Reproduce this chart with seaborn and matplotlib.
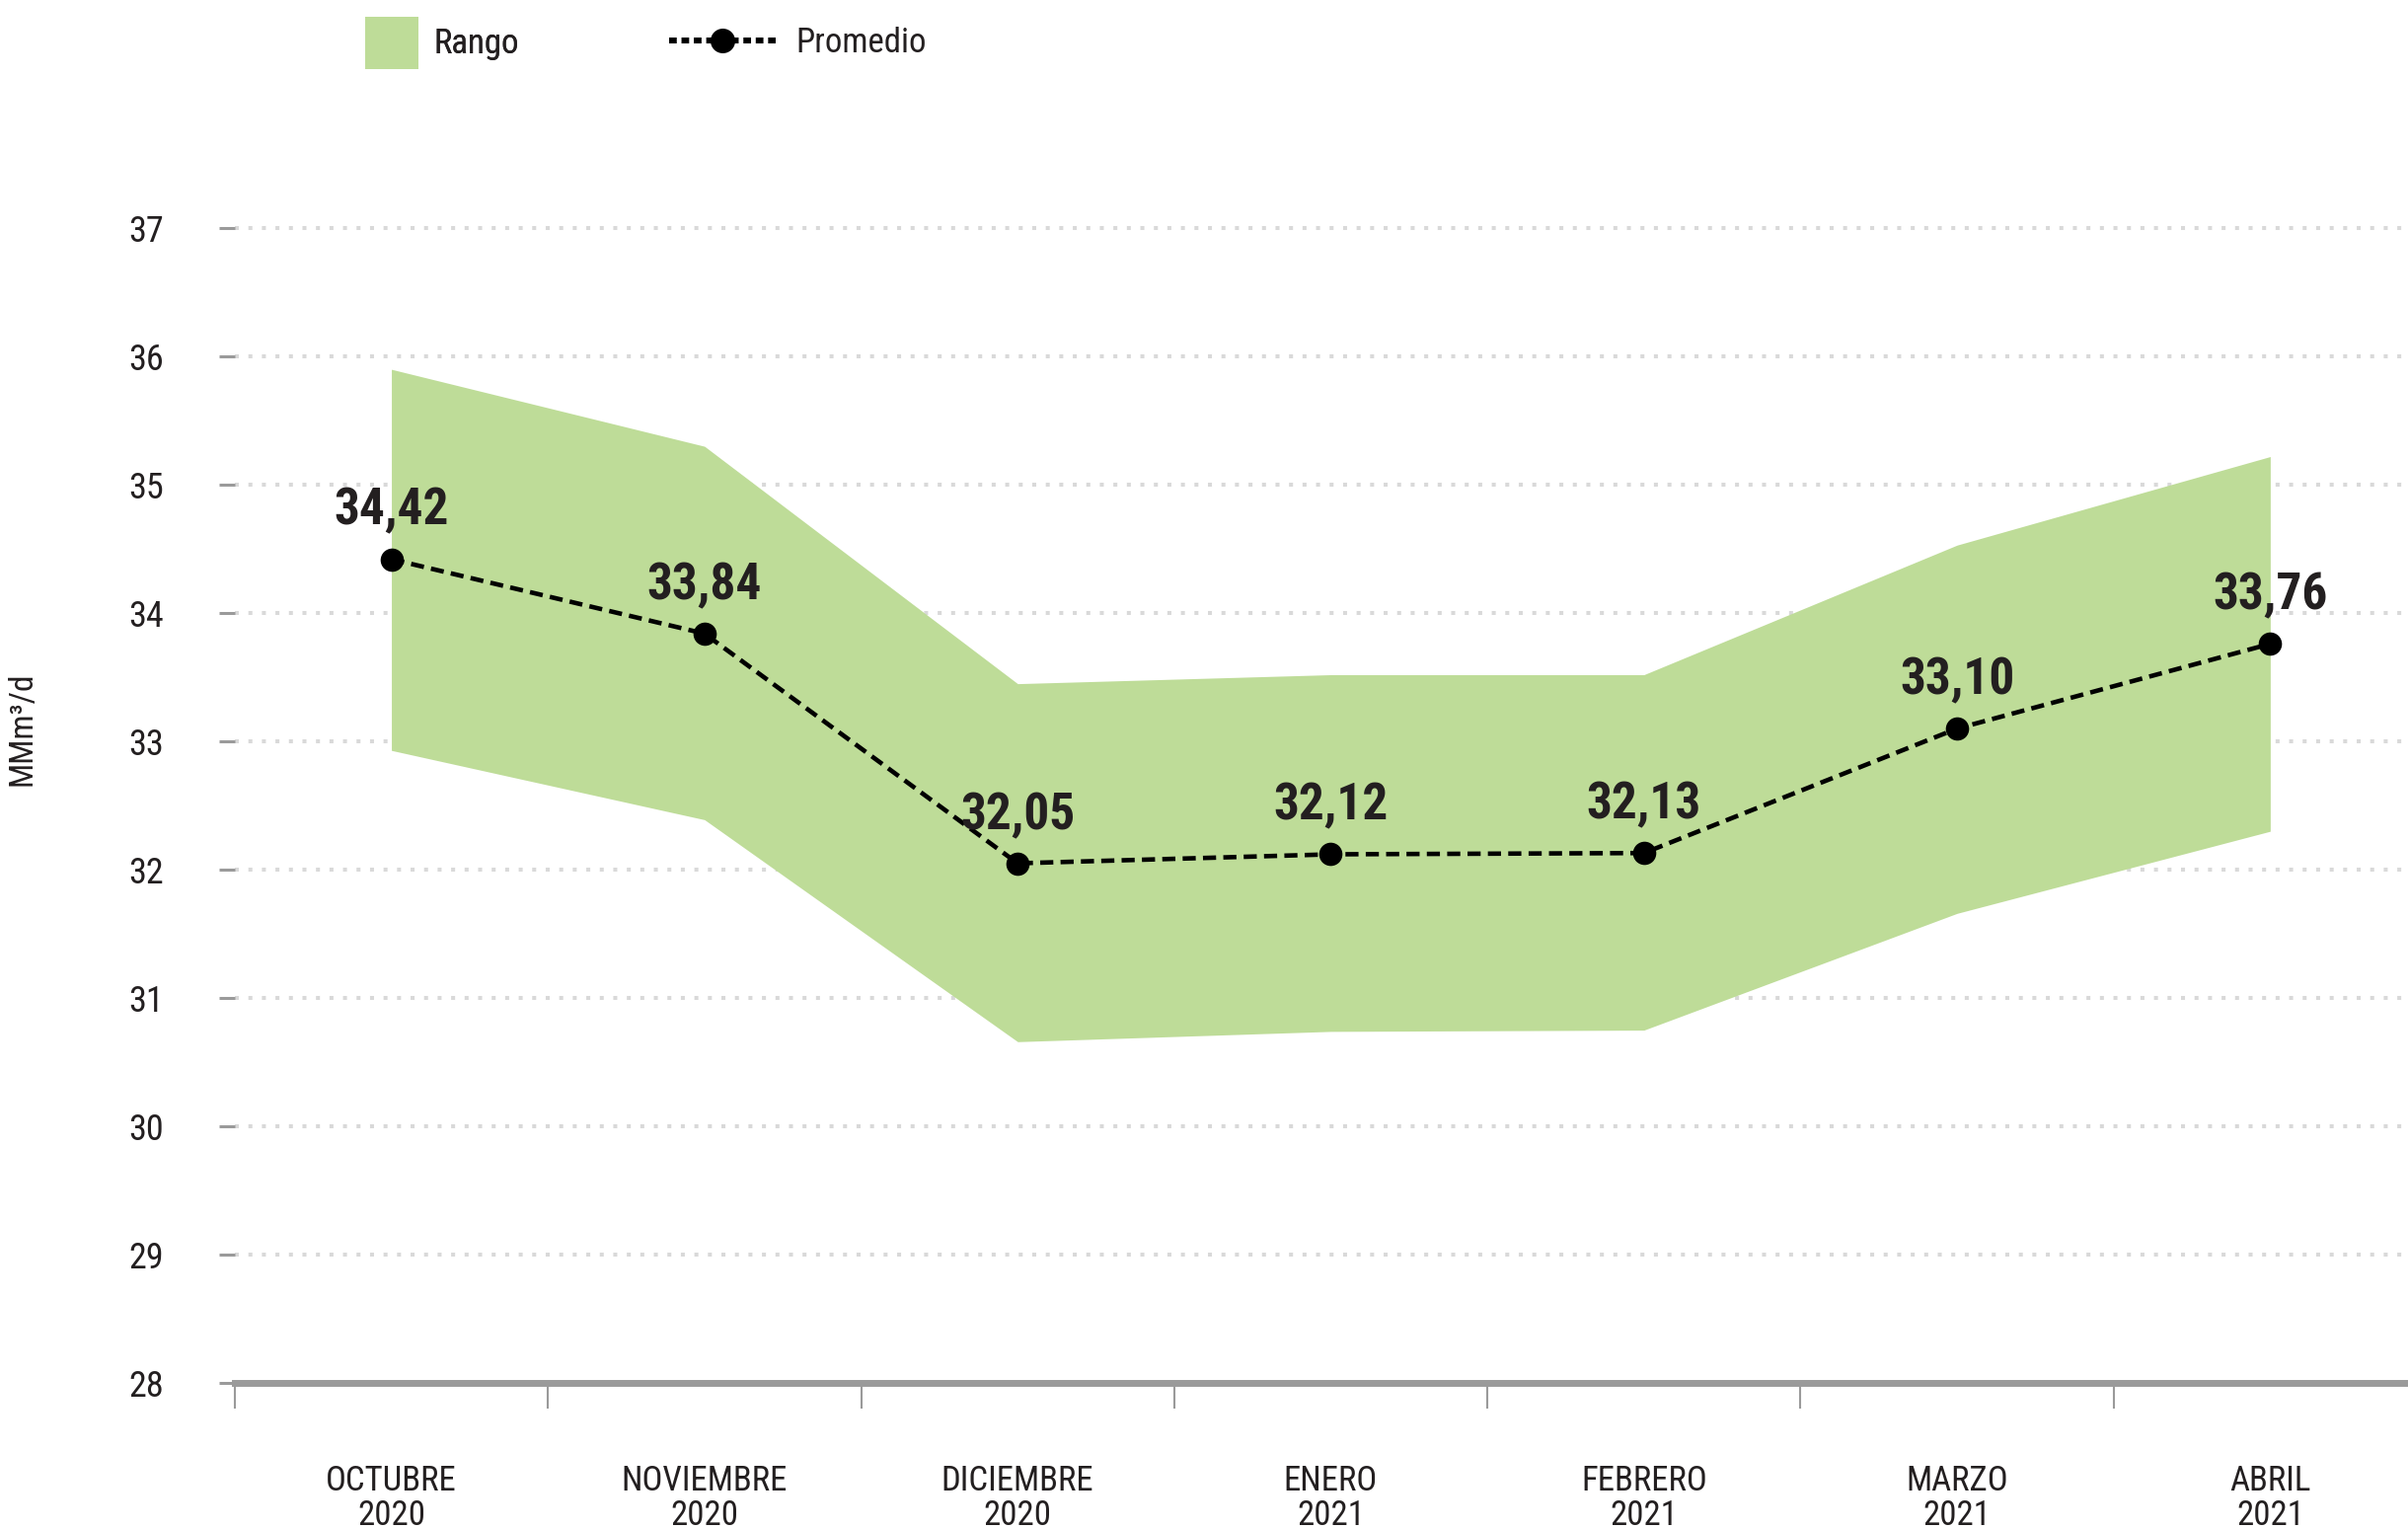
import numpy as np
import pandas as pd
import matplotlib
matplotlib.use("Agg")
import matplotlib.pyplot as plt
from matplotlib import font_manager
from matplotlib.patches import Patch
from matplotlib.lines import Line2D
import seaborn as sns

# Datos
meses = ["OCTUBRE\n2020", "NOVIEMBRE\n2020", "DICIEMBRE\n2020", "ENERO\n2021",
         "FEBRERO\n2021", "MARZO\n2021", "ABRIL\n2021"]
promedio = [34.42, 33.84, 32.05, 32.12, 32.13, 33.10, 33.76]
rango_max = [35.90, 35.30, 33.45, 33.52, 33.52, 34.53, 35.22]
rango_min = [32.93, 32.39, 30.66, 30.74, 30.75, 31.66, 32.30]
y_ticks = [28, 29, 30, 31, 32, 33, 34, 35, 36, 37]

df = pd.DataFrame({"mes": meses, "promedio": promedio})

sns.set_theme(style="white")
installed = {f.name for f in font_manager.fontManager.ttflist}
fams = [f for f in ["Roboto Condensed", "Roboto", "DejaVu Sans"] if f in installed]
plt.rcParams["font.family"] = fams

verde = "#bedc98"
texto = "#231f20"
gris = "#9a9a9a"

fig = plt.figure(figsize=(24.4, 15.49), dpi=100)
ax = fig.add_axes([0.0975, 0.0955, 0.9025, 0.856])

# grilla punteada
ax.set_axisbelow(True)
ax.yaxis.grid(True, color="#d9d9d9", linewidth=2.9, linestyle=(0, (1, 2.4)))
ax.xaxis.grid(False)

# rango
x = np.arange(len(meses))
ax.fill_between(x, rango_min, rango_max, color=verde, linewidth=0, zorder=2)

# promedio
sns.lineplot(data=df, x="mes", y="promedio", sort=False, ax=ax, color="black",
             marker="o", markersize=17, markeredgewidth=0,
             linewidth=3.3, linestyle=(0, (2.9, 1.6)), zorder=3)

for i, v in enumerate(promedio):
    ax.annotate(f"{v:.2f}".replace(".", ","), (i, v), xytext=(0, 25),
                textcoords="offset points", ha="center", va="baseline",
                fontsize=37, fontweight="bold", color=texto, zorder=4)

ax.set_ylim(28, 38.2)
ax.set_xlim(-0.5, 6.44)
ax.set_yticks(y_ticks)
ax.set_yticklabels([str(t) for t in y_ticks])
ax.set_xticks(x)
ax.set_xticklabels(meses, linespacing=1.05)
ax.set_xticks(np.arange(-0.5, 6, 1), minor=True)

ax.tick_params(axis="x", which="major", length=0, pad=60, labelsize=25, labelcolor=texto)
ax.tick_params(axis="x", which="minor", length=19, width=1.5, color=gris, bottom=True)
ax.tick_params(axis="y", which="major", length=11.5, width=2.2, color=gris, pad=40,
               labelsize=26, labelcolor=texto, left=True)

for s in ["top", "right", "left"]:
    ax.spines[s].set_visible(False)
ax.spines["bottom"].set_color(gris)
ax.spines["bottom"].set_linewidth(5)

ax.set_xlabel("")
ax.set_ylabel("MMm³/d", fontsize=24, color=texto)
ax.yaxis.set_label_coords(-0.0904, 0.5)

# leyenda
leg1 = fig.legend(handles=[Patch(facecolor=verde, edgecolor="none", label="Rango")],
                  loc="center left", bbox_to_anchor=(0.1516, 0.972), frameon=False,
                  fontsize=25, handlelength=1.55, handleheight=2.0, borderpad=0,
                  borderaxespad=0, handletextpad=0.45, labelcolor=texto)
fig.add_artist(leg1)
linea = Line2D([0], [0], color="black", marker="o", markersize=18, markeredgewidth=0,
               linewidth=4.3, linestyle=(0, (1.3, 0.8)), dash_capstyle="butt",
               label="Promedio")
fig.legend(handles=[linea], loc="center left", bbox_to_anchor=(0.278, 0.972),
           frameon=False, fontsize=25, handlelength=3.1, borderpad=0,
           borderaxespad=0, handletextpad=0.6, labelcolor=texto, numpoints=1)

fig.savefig("out.png", dpi=100)
